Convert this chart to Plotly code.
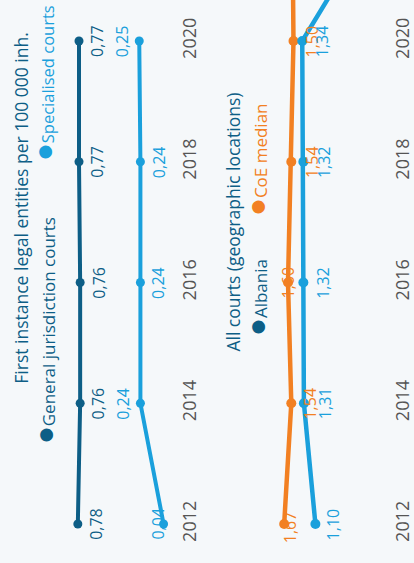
import plotly.graph_objects as go

# ---- data ----
years = [2012, 2014, 2016, 2018, 2020]
general_courts = [0.78, 0.76, 0.76, 0.77, 0.77]
specialised_courts = [0.04, 0.24, 0.24, 0.24, 0.25]

years_all = [2012, 2014, 2016, 2018, 2020, 2022]
albania = [1.10, 1.31, 1.32, 1.32, 1.34, 0.0]
coe_median = [1.67, 1.54, 1.60, 1.54, 1.50, 1.52]

year_ticks = ["2012", "2014", "2016", "2018", "2020"]

# ---- styles ----
DARK = "#0d5e86"
LIGHT = "#1aa0dc"
ORANGE = "#f28022"
BG = "#f5f8fa"
FONT = "Open Sans"
W, H = 414, 563

def fmt(v):
    return f"{v:.2f}".replace(".", ",")

fig = go.Figure()

fig.add_trace(go.Scatter(x=general_courts, y=years, mode="lines+markers",
                         line=dict(color=DARK, width=4), marker=dict(color=DARK, size=9),
                         xaxis="x", yaxis="y", showlegend=False, hoverinfo="skip"))
fig.add_trace(go.Scatter(x=specialised_courts, y=years, mode="lines+markers",
                         line=dict(color=LIGHT, width=4), marker=dict(color=LIGHT, size=9),
                         xaxis="x", yaxis="y", showlegend=False, hoverinfo="skip"))
fig.add_trace(go.Scatter(x=coe_median, y=years_all, mode="lines+markers",
                         line=dict(color=ORANGE, width=4.5), marker=dict(color=ORANGE, size=10),
                         xaxis="x2", yaxis="y2", showlegend=False, hoverinfo="skip"))
fig.add_trace(go.Scatter(x=albania, y=years_all, mode="lines+markers",
                         line=dict(color=LIGHT, width=4.5), marker=dict(color=LIGHT, size=10),
                         xaxis="x2", yaxis="y2", showlegend=False, hoverinfo="skip"))

ann = []
label_font = 16
label_sets = [
    (general_courts, years, DARK, "x", "y", [18, 18, 18, 18, 18], [0, 0, 0, 0, 0]),
    (specialised_courts, years, LIGHT, "x", "y", [-6, -17, 17, 18, -17], [0, 0, 0, 0, 0]),
    (coe_median[:5], years, ORANGE, "x2", "y2", [6, 19, -1, 20, 19], [-3, 0, 0, 0, 0]),
    (albania[:5], years, LIGHT, "x2", "y2", [18, 21, 19, 20, 20], [0, 0, 0, 0, 0]),
]
for vals, yrs, col, xr, yr, xs, ys in label_sets:
    for v, y, dx, dy in zip(vals, yrs, xs, ys):
        ann.append(dict(x=v, y=y, xref=xr, yref=yr, text=fmt(v), showarrow=False,
                        textangle=-90, xanchor="center", yanchor="middle",
                        xshift=dx, yshift=dy, font=dict(family=FONT, size=label_font, color=col)))

def pann(px, py, text, color, size=17):
    ann.append(dict(x=px / W, y=1 - py / H, xref="paper", yref="paper", text=text,
                    showarrow=False, textangle=-90, xanchor="center", yanchor="middle",
                    font=dict(family=FONT, size=size, color=color)))

dot = "<span style='font-size:30px'>●</span>"
pann(21, 208, "First instance legal entities per 100 000 inh.", DARK, 17.5)
pann(44, 331, f"<span style='color:{DARK}'>{dot}</span>General jurisdiction courts", DARK)
pann(44, 83, f"<span style='color:{LIGHT}'>{dot}</span>Specialised courts", LIGHT, 16.5)
pann(236, 222, "All courts (geographic locations)", DARK, 17.5)
pann(259, 298, f"<span style='color:{DARK}'>{dot}</span>Albania", DARK)
pann(259, 160, f"<span style='color:{ORANGE}'>{dot}</span>CoE median", ORANGE)

yrange = [2012 - 39 / 60.4, 2020 + 41 / 60.4]
axis_common = dict(showgrid=False, zeroline=False, showline=False, ticks="")

fig.update_layout(
    width=W, height=H,
    margin=dict(l=0, r=0, t=0, b=0),
    paper_bgcolor=BG, plot_bgcolor=BG,
    showlegend=False,
    annotations=ann,
    xaxis=dict(domain=[0, 180 / W], range=[170.7 / 117.6, (170.7 - 180) / 117.6],
               showticklabels=False, anchor="y", **axis_common),
    yaxis=dict(domain=[0, 1], range=yrange, anchor="x", side="right",
               tickvals=years, ticktext=year_ticks, tickangle=-90,
               tickfont=dict(family=FONT, size=18, color="#555555"), **axis_common),
    xaxis2=dict(domain=[200 / W, 396 / W], range=[(381.2 - 200) / 55.6, (381.2 - 396) / 55.6],
                showticklabels=False, anchor="y2", **axis_common),
    yaxis2=dict(domain=[0, 1], range=yrange, anchor="x2", side="right",
                tickvals=years, ticktext=year_ticks, tickangle=-90,
                tickfont=dict(family=FONT, size=18, color="#555555"), **axis_common),
)

fig.write_html("out.html", config={"displayModeBar": False},
               post_script="document.body.style.margin='0';document.body.style.overflow='hidden';")
